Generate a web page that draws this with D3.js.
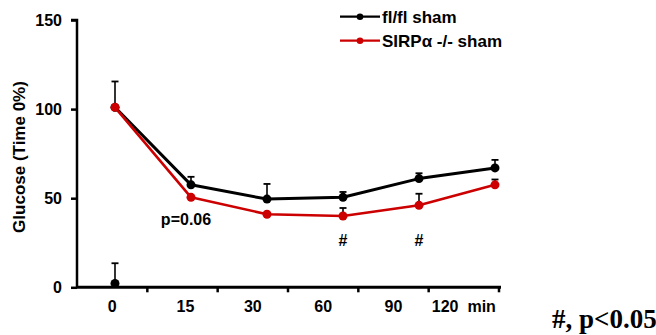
<!DOCTYPE html>
<html><head><meta charset="utf-8">
<script src="https://cdn.jsdelivr.net/npm/d3@7"></script>
<style>
html,body{margin:0;padding:0;background:#fff;}
svg{display:block;font-family:Arial,"Liberation Sans",sans-serif;}
</style></head>
<body>
<svg id="chart" width="656" height="335"></svg>
<script>
const categories = ["0","15","30","60","90","120"];
const tickLabels = ["0","15","30","60","90","120  min"];
const flflMean = [101, 57.5, 49.5, 50.5, 61, 67];
const flflErr  = [115.5, 62, 58, 53.5, 64, 71.5];
const sirpMean = [101, 50.5, 41, 40, 46, 57.5];
const sirpErr  = [101, 50.5, 41, 44.5, 52.5, 60.5];
const strayPoint = [{cat:"0", value:2.2, err:13.5}];
const yTicks = [0, 50, 100, 150];
const sigMarks = [{cat:"60", label:"#"}, {cat:"90", label:"#"}];
const seriesNames = ["fl/fl sham", "SIRP\u03b1 -/- sham"];
const seriesColors = ["#000000", "#cc0000"];

const svg = d3.select("#chart");
const y = d3.scaleLinear().domain([0,150]).range([287.3, 20]);
const xBand = d3.scaleBand().domain(categories).range([77, 499]).padding(0);
const xPt = d3.scalePoint().domain(categories).range([115, 495]);

// Y axis
const yAxis = d3.axisLeft(y).tickValues(yTicks).tickSize(6).tickPadding(9);
const gy = svg.append("g").attr("transform","translate(77,0)").call(yAxis);
gy.select(".domain").attr("stroke","#000").attr("stroke-width",2.5).attr("d","M-6,20H0V287.3");
gy.selectAll(".tick line").attr("stroke","#000").attr("stroke-width",2.5);
gy.selectAll(".tick text").attr("font-size","16px").attr("font-weight","bold").attr("fill","#000")
  .attr("font-family","Arial, 'Liberation Sans', sans-serif");

// X axis: ticks at band boundaries, labels at band centres
const gx = svg.append("g");
gx.append("line").attr("x1",77).attr("x2",501).attr("y1",y(0)).attr("y2",y(0))
  .attr("stroke","#000").attr("stroke-width",3);
categories.forEach((c,i)=>{
  const xb = xBand(c) + xBand.bandwidth();
  gx.append("line").attr("x1",xb).attr("x2",xb).attr("y1",y(0)).attr("y2",y(0)+5)
    .attr("stroke","#000").attr("stroke-width",2.5);
  gx.append("text").attr("x", xBand(c)+xBand.bandwidth()/2 + (i===1?3:0)).attr("y", 312)
    .attr("text-anchor","middle").attr("font-size","16px").attr("font-weight","bold")
    .attr("xml:space","preserve").style("white-space","pre")
    .text(tickLabels[i]);
});

// Y title
svg.append("text").attr("transform","translate(25,157) rotate(-90)")
  .attr("text-anchor","middle").attr("font-size","17px").attr("font-weight","bold")
  .text("Glucose (Time 0%)");

const series = [
  {name:seriesNames[0], color:seriesColors[0], mean:flflMean, err:flflErr, width:3},
  {name:seriesNames[1], color:seriesColors[1], mean:sirpMean, err:sirpErr, width:2.6}
];

const line = d3.line().x((d,i)=>xPt(categories[i])).y(d=>y(d));

// error bars (upward)
function errBar(g, cx, v, e){
  if (e - v < 0.3) return;
  g.append("line").attr("x1",cx).attr("x2",cx).attr("y1",y(v)).attr("y2",y(e))
    .attr("stroke","#000").attr("stroke-width",1.6);
  g.append("line").attr("x1",cx-3.5).attr("x2",cx+3.5).attr("y1",y(e)).attr("y2",y(e))
    .attr("stroke","#000").attr("stroke-width",1.8);
}
const ge = svg.append("g");
series.forEach(s=>{
  s.mean.forEach((v,i)=>errBar(ge, xPt(categories[i]), v, s.err[i]));
});
strayPoint.forEach(p=>errBar(ge, xPt(p.cat), p.value, p.err));

// lines
series.forEach(s=>{
  svg.append("path").datum(s.mean).attr("d",line).attr("fill","none")
    .attr("stroke",s.color).attr("stroke-width",s.width).attr("stroke-linejoin","round");
});
// markers
series.forEach(s=>{
  svg.append("g").selectAll("circle").data(s.mean).join("circle")
    .attr("cx",(d,i)=>xPt(categories[i])).attr("cy",d=>y(d)).attr("r",4.5).attr("fill",s.color);
});
svg.append("g").selectAll("circle").data(strayPoint).join("circle")
  .attr("cx",d=>xPt(d.cat)).attr("cy",d=>y(d.value)).attr("r",4.5).attr("fill","#000");

// annotations
svg.append("text").attr("x",186).attr("y",225).attr("text-anchor","middle")
  .attr("font-size","16px").attr("font-weight","bold").text("p=0.06");
svg.selectAll(".sig").data(sigMarks).join("text").attr("class","sig")
  .attr("x",d=>xPt(d.cat)).attr("y",246).attr("text-anchor","middle")
  .attr("font-size","16px").attr("font-weight","bold").text(d=>d.label);

// legend
const lg = svg.append("g");
series.forEach((s,i)=>{
  const ly = 16.7 + i*24;
  lg.append("line").attr("x1",340).attr("x2",380).attr("y1",ly).attr("y2",ly)
    .attr("stroke",s.color).attr("stroke-width",2.2);
  lg.append("circle").attr("cx",360).attr("cy",ly).attr("r",3.3).attr("fill",s.color);
  lg.append("text").attr("x",382).attr("y",ly+6).attr("font-size","17px")
    .attr("font-weight","bold").text(s.name);
});

// footnote
svg.append("text").attr("x",552).attr("y",328).attr("font-family","'Liberation Serif','Times New Roman',serif")
  .attr("font-size","27px").attr("font-weight","bold").text("#, p<0.05");
</script>
</body></html>
